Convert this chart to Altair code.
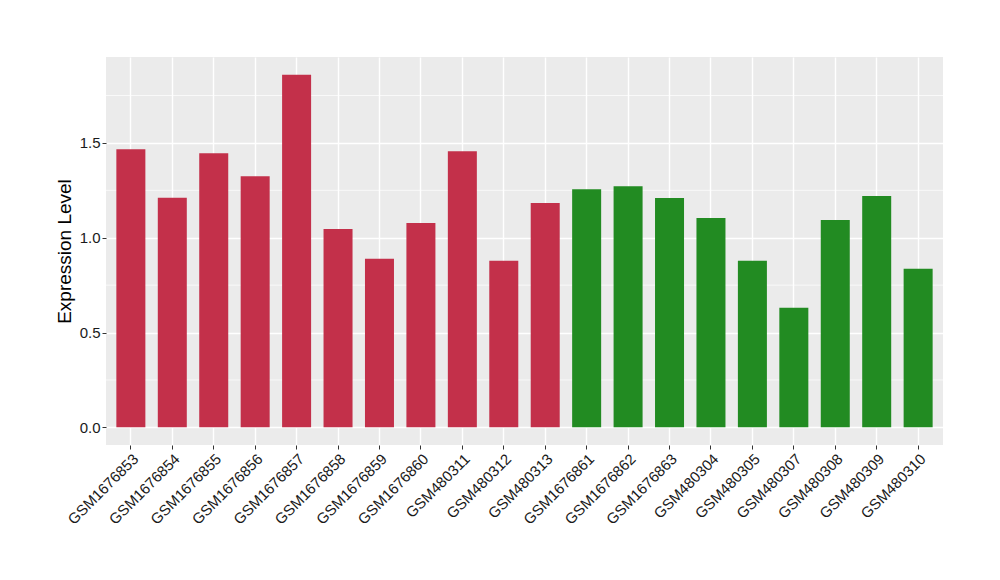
import altair as alt
import pandas as pd

samples = ["GSM1676853", "GSM1676854", "GSM1676855", "GSM1676856", "GSM1676857",
           "GSM1676858", "GSM1676859", "GSM1676860", "GSM480311", "GSM480312",
           "GSM480313", "GSM1676861", "GSM1676862", "GSM1676863", "GSM480304",
           "GSM480305", "GSM480307", "GSM480308", "GSM480309", "GSM480310"]
values = [1.466, 1.211, 1.445, 1.324, 1.860, 1.046, 0.889, 1.078, 1.456, 0.878,
          1.183, 1.256, 1.272, 1.209, 1.104, 0.878, 0.631, 1.094, 1.220, 0.836]
groups = ["A"] * 11 + ["B"] * 9
group_names = ["A", "B"]
group_colors = ["#C3304A", "#228B22"]
major_ticks = [0.0, 0.5, 1.0, 1.5]
minor_ticks = [0.25, 0.75, 1.25, 1.75]
y_domain = [-0.093, 1.953]

df = pd.DataFrame({"sample": samples, "value": values, "group": groups})
minor_df = pd.DataFrame({"v": minor_ticks})

yscale = alt.Scale(domain=y_domain, nice=False, zero=False)
xscale = alt.Scale(domain=samples, paddingInner=0.3, paddingOuter=0.25)

yaxis = alt.Axis(title="Expression Level", values=major_ticks, format=".1f",
                 grid=True, gridColor="white", gridWidth=1.4,
                 tickColor="#333333", tickSize=4, tickWidth=1, domain=False,
                 labelFontSize=15, labelColor="#1a1a1a", labelPadding=2,
                 labelFont="Liberation Sans",
                 titleFontSize=19, titleFontWeight="normal",
                 titleColor="black", titleFont="Liberation Sans",
                 titlePadding=5)

minor = alt.Chart(minor_df).mark_rule(color="white", strokeWidth=0.7).encode(
    y=alt.Y("v:Q", scale=yscale, axis=yaxis, title="Expression Level")
)

bars = alt.Chart(df).mark_bar().encode(
    x=alt.X("sample:N", scale=xscale, sort=samples,
            axis=alt.Axis(title=None, grid=True, gridColor="white", gridWidth=1.4,
                          bandPosition=0.5, ticks=True, tickColor="#333333",
                          tickSize=4, tickWidth=1, domain=False, labelAngle=315,
                          labelAlign="right", labelBaseline="top",
                          labelFontSize=15, labelColor="#1a1a1a", labelPadding=2,
                          labelFont="Liberation Sans")),
    y=alt.Y("value:Q", scale=yscale, axis=yaxis, title="Expression Level"),
    y2=alt.datum(0),
    color=alt.Color("group:N", scale=alt.Scale(domain=group_names, range=group_colors),
                    legend=None),
)

chart = alt.layer(minor, bars).properties(
    width=837, height=388,
    autosize=alt.AutoSizeParams(type="none"),
    padding={"left": 98, "top": 49, "right": 40, "bottom": 120},
    background="white",
).configure_view(fill="#EBEBEB", stroke=None)

chart.save("out.html", embed_options={"renderer": "svg", "actions": False})
